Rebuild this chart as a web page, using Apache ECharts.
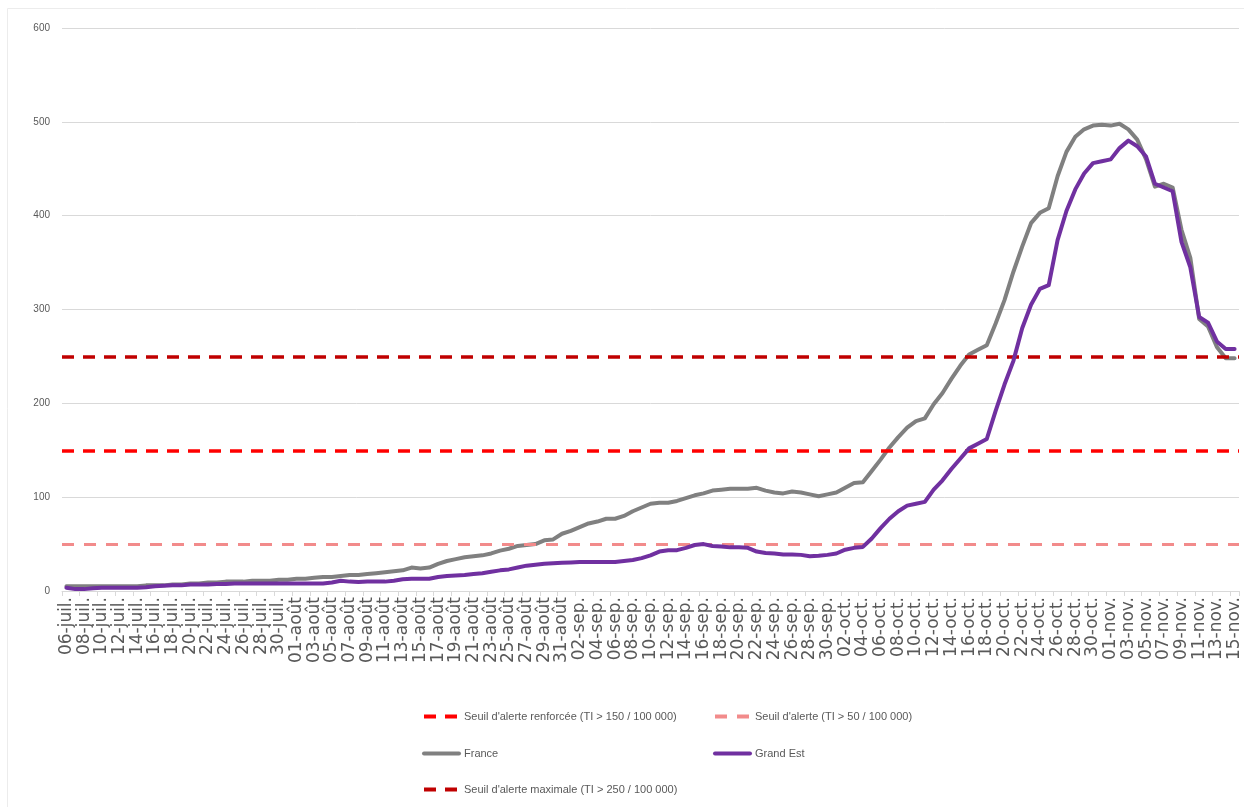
<!DOCTYPE html>
<html>
<head>
<meta charset="utf-8">
<script src="https://cdn.jsdelivr.net/npm/echarts@6/dist/echarts.min.js"></script>
<style>
html,body{margin:0;padding:0;background:#fff;}
#c{width:1244px;height:807px;}
</style>
</head>
<body>
<div id="c"></div>
<script>
const categories = [
"06-juil.","07-juil.","08-juil.","09-juil.","10-juil.","11-juil.","12-juil.","13-juil.","14-juil.","15-juil.",
"16-juil.","17-juil.","18-juil.","19-juil.","20-juil.","21-juil.","22-juil.","23-juil.","24-juil.","25-juil.",
"26-juil.","27-juil.","28-juil.","29-juil.","30-juil.","31-juil.",
"01-août","02-août","03-août","04-août","05-août","06-août","07-août","08-août","09-août","10-août",
"11-août","12-août","13-août","14-août","15-août","16-août","17-août","18-août","19-août","20-août",
"21-août","22-août","23-août","24-août","25-août","26-août","27-août","28-août","29-août","30-août","31-août",
"01-sep.","02-sep.","03-sep.","04-sep.","05-sep.","06-sep.","07-sep.","08-sep.","09-sep.","10-sep.",
"11-sep.","12-sep.","13-sep.","14-sep.","15-sep.","16-sep.","17-sep.","18-sep.","19-sep.","20-sep.",
"21-sep.","22-sep.","23-sep.","24-sep.","25-sep.","26-sep.","27-sep.","28-sep.","29-sep.","30-sep.",
"01-oct.","02-oct.","03-oct.","04-oct.","05-oct.","06-oct.","07-oct.","08-oct.","09-oct.","10-oct.",
"11-oct.","12-oct.","13-oct.","14-oct.","15-oct.","16-oct.","17-oct.","18-oct.","19-oct.","20-oct.",
"21-oct.","22-oct.","23-oct.","24-oct.","25-oct.","26-oct.","27-oct.","28-oct.","29-oct.","30-oct.","31-oct.",
"01-nov.","02-nov.","03-nov.","04-nov.","05-nov.","06-nov.","07-nov.","08-nov.","09-nov.","10-nov.",
"11-nov.","12-nov.","13-nov.","14-nov.","15-nov."
];

const france = [
5,5,5,5,5,5,5,5,5,6,
6,6,7,7,8,8,9,9,10,10,
10,11,11,11,12,12,13,13,14,15,
15,16,17,17,18,19,20,21,22,25,
24,25,29,32,34,36,37,38,40,43,
45,48,49,50,54,55,61,64,68,72,
74,77,77,80,85,89,93,94,94,96,
99,102,104,107,108,109,109,109,110,107,
105,104,106,105,103,101,103,105,110,115,
116,128,140,153,164,174,181,184,199,211,
226,240,252,257,262,285,310,340,367,392,
403,408,442,468,484,492,496,497,496,498,
492,481,460,431,434,430,385,355,290,282,
260,248,248
];

const grandEst = [
3.5,2,2,3,3.5,3.5,3.5,3.5,3.5,4,
5,5.5,6,6,7,7,7,7.5,7.5,8,
8,8,8,8,8,8,8,8,8,8,
9,11,10,9.5,10,10,10,11,12.5,13,
13,13,15,16,16.5,17,18,19,20.5,22,
23,25,27,28,29,29.5,30,30.5,31,31,
31,31,31,32,33,35,38,42,43.5,43.5,
46,49,50,48,47.5,46.5,46.5,46,42,40.5,
40,39,39,38.5,37,37.5,38.5,40,44,46,
47,56,67,77,85,91,93,95,108,118,
130,141,152,157,162,192,220,245,280,305,
322,326,374,405,428,445,456,458,460,472,
480,474,463,434,430,426,372,345,292,286,
266,258,258
];

const seuilRenforce = 150;
const seuilAlerte = 50;
const seuilMax = 250;
const yTicks = [0, 100, 200, 300, 400, 500, 600];

const names = {
  renf: "Seuil d'alerte renforcée (TI > 150 / 100 000)",
  alerte: "Seuil d'alerte (TI > 50 / 100 000)",
  fr: "France",
  ge: "Grand Est",
  max: "Seuil d'alerte maximale (TI > 250 / 100 000)"
};

const chart = echarts.init(document.getElementById('c'), null, {renderer: 'canvas'});

function thresholdSeries(name, value, color, width, dash) {
  return {
    name: name, type: 'line', data: [], symbol: 'none',
    itemStyle: {color: color},
    lineStyle: {color: color, width: width, type: dash},
    markLine: {
      silent: true, symbol: ['none', 'none'], label: {show: false},
      lineStyle: {color: color, width: width, type: dash},
      emphasis: {disabled: true},
      data: [{yAxis: value}]
    },
    z: 3
  };
}

const legendBase = {
  itemWidth: 35, itemHeight: 14, padding: 0,
  itemStyle: {opacity: 0},
  lineStyle: {width: 4},
  textStyle: {color: '#595959', fontSize: 11, fontFamily: 'Liberation Sans, Arial, sans-serif'},
  selectedMode: false
};

chart.setOption({
  animation: false,
  backgroundColor: '#ffffff',
  graphic: [{
    type: 'rect', shape: {x: 7.5, y: 8.5, width: 1250, height: 820},
    style: {fill: 'none', stroke: '#ececec', lineWidth: 1}, silent: true, z: -1
  }],
  grid: {left: 62, right: 5, top: 28, bottom: 216, containLabel: false, outerBoundsMode: 'none'},
  legend: [
    Object.assign({}, legendBase, {left: 422, top: 711, data: [names.renf]}),
    Object.assign({}, legendBase, {left: 713, top: 711, data: [names.alerte]}),
    Object.assign({}, legendBase, {left: 422, top: 748, data: [names.fr]}),
    Object.assign({}, legendBase, {left: 713, top: 748, data: [names.ge]}),
    Object.assign({}, legendBase, {left: 422, top: 784, data: [names.max]})
  ],
  xAxis: {
    type: 'category',
    data: categories,
    boundaryGap: true,
    axisLine: {show: true, lineStyle: {color: '#d9d9d9', width: 1}},
    axisTick: {show: true, interval: 1, length: 5, lineStyle: {color: '#d9d9d9'}},
    axisLabel: {
      interval: 1, rotate: 90, margin: 6,
      color: '#595959', fontSize: 17, fontFamily: 'DejaVu Sans, sans-serif'
    },
    splitLine: {show: false}
  },
  yAxis: {
    type: 'value', min: yTicks[0], max: yTicks[yTicks.length - 1], interval: 100,
    axisLine: {show: false}, axisTick: {show: false},
    axisLabel: {color: '#595959', fontSize: 10, margin: 12, fontFamily: 'Liberation Sans, Arial, sans-serif'},
    splitLine: {show: true, lineStyle: {color: '#d9d9d9', width: 1}}
  },
  series: [
    thresholdSeries(names.renf, seuilRenforce, '#ff0000', 3.5, [12, 9]),
    thresholdSeries(names.alerte, seuilAlerte, '#f28b8b', 3, [12, 10]),
    {
      name: names.fr, type: 'line', data: france, symbol: 'none', smooth: false,
      itemStyle: {color: '#808080'},
      lineStyle: {color: '#808080', width: 4, cap: 'round', join: 'round'}, z: 4
    },
    {
      name: names.ge, type: 'line', data: grandEst, symbol: 'none', smooth: false,
      itemStyle: {color: '#7030a0'},
      lineStyle: {color: '#7030a0', width: 4, cap: 'round', join: 'round'}, z: 5
    },
    thresholdSeries(names.max, seuilMax, '#c00000', 3.5, [12, 9])
  ]
});
</script>
</body>
</html>
